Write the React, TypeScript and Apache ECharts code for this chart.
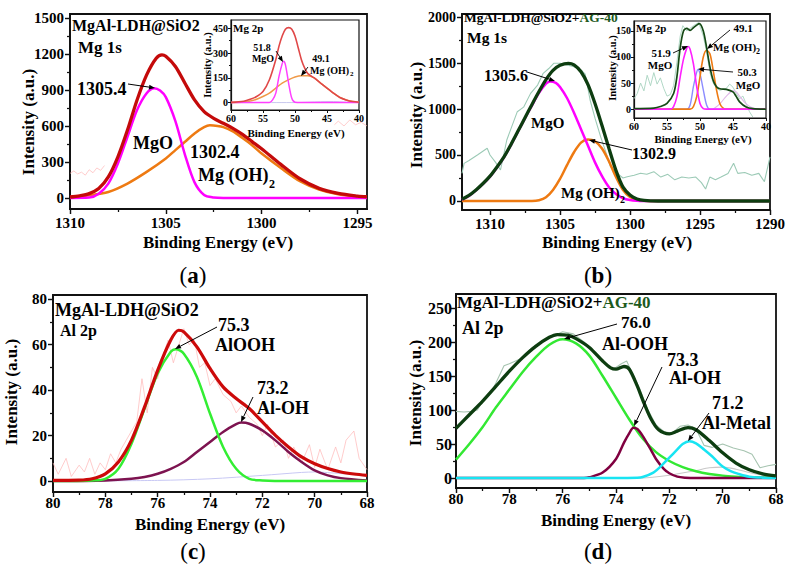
import React, { useEffect, useRef } from "react";
import * as echarts from "echarts";

const FONT = '"Liberation Serif", "Times New Roman", "DejaVu Serif", serif';

// ---------------- Panel (a): Mg 1s, MgAl-LDH@SiO2 ----------------
const aEnvelope = [[1310,8],[1309.5,18],[1309,36],[1308.5,78],[1308,175],[1307.5,343],[1307,566],[1306.5,817],[1306,1026],[1305.5,1165],[1305.2,1193],[1305,1180],[1304.5,1096],[1304,956],[1303.5,817],[1303,719],[1302.5,663],[1302,622],[1301.5,580],[1301,530],[1300.5,470],[1300,410],[1299,280],[1298,160],[1297,80],[1296,38],[1295,16],[1294.5,10]];
const aMgO = [[1310,0],[1309,3],[1308.5,36],[1308,120],[1307.5,287],[1307,510],[1306.5,733],[1306,873],[1305.6,915],[1305.3,895],[1305,840],[1304.5,640],[1304,360],[1303.5,130],[1303,25],[1302.5,4],[1302,0],[1294.5,0]];
const aMgOH2 = [[1310,8],[1309,22],[1308,50],[1307,120],[1306,217],[1305,329],[1304.5,399],[1304,468],[1303.5,538],[1303,590],[1302.7,605],[1302.3,600],[1302,590],[1301.5,555],[1301,500],[1300.5,440],[1300,370],[1299,250],[1298,140],[1297,70],[1296,30],[1295,12],[1294.5,8]];
const aRawLeft = [[1310,205],[1309.8,225],[1309.6,200],[1309.4,215],[1309.2,190],[1309,235],[1308.8,210],[1308.6,250],[1308.4,230],[1308.2,270]];
const aRawRight = [[1296.2,610],[1296,640],[1295.7,600],[1295.4,650],[1295.1,610],[1294.8,630],[1294.5,600]];

// inset (a): Mg 2p
const aInsetEnv = [[60,1],[58,8],[57,20],[56,37],[55,67],[54,138],[53,260],[52.5,342],[52,403],[51.5,444],[51,454],[50.5,444],[50,403],[49.5,332],[49,260],[48.5,210],[48,175],[47,149],[46,118],[45,88],[44,57],[43,31],[42,16],[41,6],[40,2]];
const aInsetMgO = [[60,0],[54,0],[53.5,16],[53,57],[52.5,159],[52,236],[51.8,250],[51.5,230],[51,118],[50.5,26],[50,2],[49,0],[40,0]];
const aInsetMgOH2 = [[60,0],[58,4],[57,10],[56,20],[55,37],[54,57],[53,88],[52,118],[51,138],[50,155],[49,163],[48,163],[47,149],[46,118],[45,88],[44,57],[43,31],[42,16],[41,6],[40,2]];
const aInsetBg = [[60,0],[50,0],[46,5],[44,6],[42,2],[40,0]];

// ---------------- Panel (b): Mg 1s, MgAl-LDH@SiO2+AG-40 ----------------
const bEnvelope = [[1312,20],[1311.5,60],[1311,120],[1310.5,190],[1310,270],[1309.5,370],[1309,480],[1308.5,615],[1308,760],[1307.5,905],[1307,1050],[1306.5,1190],[1306,1320],[1305.5,1420],[1305,1475],[1304.4,1497],[1304,1480],[1303.5,1405],[1303,1265],[1302.5,1060],[1302,820],[1301.5,570],[1301,330],[1300.5,150],[1300,65],[1299.5,22],[1299,6],[1298,0],[1290,0]];
const bMgO = [[1312,15],[1311.5,55],[1311,115],[1310.5,185],[1310,265],[1309.5,365],[1309,475],[1308.5,610],[1308,755],[1307.5,900],[1307,1040],[1306.5,1175],[1306,1275],[1305.7,1300],[1305.3,1285],[1305,1240],[1304.5,1120],[1304,960],[1303.5,780],[1303,600],[1302.5,420],[1302,270],[1301.5,150],[1301,75],[1300.5,30],[1300,10],[1299.5,2],[1299,0],[1290,0]];
const bMgOH2 = [[1312,0],[1307,0],[1306.5,8],[1306,40],[1305.5,120],[1305,240],[1304.5,390],[1304,530],[1303.5,635],[1303,668],[1302.5,650],[1302,570],[1301.5,430],[1301,260],[1300.5,120],[1300,45],[1299.5,15],[1299,3],[1298,0],[1290,0]];
const bRaw = [[1312,300],[1311.85,409],[1311.5,440],[1310.9,500],[1310.2,573],[1310,500],[1309.6,420],[1309.25,337],[1308.8,663],[1308.05,971],[1307.6,1020],[1307.1,1170],[1306.6,1260],[1306.2,1388],[1305.8,1440],[1305.45,1497],[1305,1497],[1304.5,1480],[1304,1460],[1303.5,1424],[1303.2,1380],[1302.85,1098],[1302.5,900],[1302.1,699],[1301.7,520],[1301.4,373],[1300.9,301],[1300.5,250],[1300.2,264],[1299.7,280],[1299.25,301],[1298.8,290],[1298.3,319],[1297.8,260],[1297.3,290],[1296.8,230],[1296.3,260],[1295.8,250],[1295.3,260],[1294.9,200],[1294.6,130],[1294.3,260],[1293.9,230],[1293.5,260],[1293,300],[1292.6,410],[1292.3,300],[1291.8,310],[1291.3,280],[1290.8,300],[1290.4,210],[1290,480]];

// inset (b): Mg 2p
const bInsetEnv = [[60,1],[57,2],[56,5],[55,11],[54,30],[53.5,62],[53,118],[52.5,150],[52,155],[51.5,151],[51,156],[50.5,161],[50.1,164],[49.5,150],[49,118],[48.5,81],[48,55],[47.5,43],[47,39],[46,38],[45,33],[44.5,24],[44,14],[43,4],[42,1],[40,0]];
const bInsetMgO1 = [[60,0],[54.5,0],[54,5],[53.5,24],[53,62],[52.5,96],[52,117],[51.8,120],[51.5,115],[51,87],[50.5,43],[50,11],[49.5,1],[49,0],[40,0]];
const bInsetMgO2 = [[60,0],[52,0],[51.5,8],[51,43],[50.5,71],[50.3,76],[50,68],[49.5,37],[49,8],[48.5,0],[40,0]];
const bInsetMgOH2 = [[60,0],[51.5,0],[51,5],[50.5,24],[50,62],[49.5,100],[49,113],[48.5,106],[48,74],[47.5,37],[47,11],[46.5,2],[46,0],[40,0]];
const bInsetExtra = [[48,0],[47,10],[46,25],[45,35],[44.5,33],[44,25],[43,10],[42,2],[41,0]];
const bInsetRaw = [[60,20],[59.5,30],[59,50],[58.5,35],[58,65],[57.5,45],[57,70],[56.5,48],[56,60],[55.5,40],[55,25],[54.5,28],[54,45],[53.5,90],[53,140],[52.6,160],[52,150],[51,160],[50.2,166],[49.5,140],[49,110],[48.5,70],[48,50],[47.5,40],[47,36],[46,40],[45.5,48],[45,42],[44.5,30],[44,20],[43.5,25],[43,10],[42.5,-5],[42,-15]];

// ---------------- Panel (c): Al 2p, MgAl-LDH@SiO2 ----------------
const cEnvelope = [[80,0.3],[79,0.4],[78.5,1],[78,3.2],[77.5,8.4],[77,18],[76.5,32.6],[76,48.7],[75.5,62],[75.2,66.3],[75,65.6],[74.5,59],[74,49.5],[73.5,41.4],[73,36.3],[72.5,31.9],[72,26],[71.5,20.1],[71,15],[70.5,10.6],[70,7.6],[69.5,5.5],[69,4],[68.5,3.1],[68,2.5]];
const cAlOOH = [[80,0],[78.5,0.3],[78,1],[77.5,5.4],[77,16.4],[76.5,31.9],[76,47.3],[75.5,56.8],[75.3,58],[75,56],[74.5,45.8],[74,29.7],[73.5,15],[73,5.4],[72.5,1],[72,0.3],[71,0],[68,0]];
const cAlOH = [[80,0],[78,0.3],[77,1],[76.5,1.8],[76,3.2],[75.5,5.4],[75,8.4],[74.5,12.8],[74,17.2],[73.5,21.6],[73,25],[72.8,25.7],[72.5,25.2],[72,22.3],[71.5,17.9],[71,12.8],[70.5,8.4],[70,4.7],[69.5,2.5],[69,1.3],[68,0.3]];
const cBackground = [[80,0],[76,0.3],[74,1],[72,2.5],[70.5,3.8],[70,4],[69,3.3],[68,2.5]];
const cRaw = [[80,8],[79.8,3],[79.5,10],[79.3,2],[79,7],[78.8,4],[78.6,10],[78.4,3],[78.2,8],[78,5],[77.8,12],[77.6,8],[77.4,14],[77.2,18],[77,22],[76.8,26],[76.6,45],[76.4,30],[76.2,50],[76,45],[75.8,55],[75.6,62],[75.4,52],[75,67],[74.8,60],[74.6,62],[74.4,50],[74.2,52],[74,42],[73.8,45],[73.5,38],[73.2,35],[73,30],[72.8,33],[72.5,28],[72.2,25],[72,20],[71.8,25],[71.5,15],[71.2,18],[71,10],[70.8,15],[70.5,8],[70.2,16],[70,6],[69.8,14],[69.5,5],[69.2,15],[69,8],[68.8,18],[68.5,22],[68.3,10],[68,5]];

// ---------------- Panel (d): Al 2p, MgAl-LDH@SiO2+AG-40 ----------------
const dEnvelope = [[80,73],[79.5,93],[79,113],[78.5,135],[78,157],[77.5,177],[77,194],[76.5,207],[76.2,211],[75.8,210],[75.5,205],[75,192],[74.5,172],[74.2,162],[74,160],[73.7,164],[73.5,160],[73.2,135],[73,115],[72.7,88],[72.4,71],[72,65],[71.7,69],[71.3,74],[71,71],[70.5,55],[70,37],[69.5,22],[69,12],[68.5,6],[68,3]];
const dAlOOH = [[80,27],[79.5,50],[79,75],[78.5,104],[78,130],[77.5,156],[77,178],[76.5,196],[76,204],[75.5,198],[75,180],[74.5,150],[74,118],[73.5,86],[73,58],[72.5,38],[72,25],[71.5,16],[71,10],[70.5,6],[70,3.5],[69.5,2],[69,1],[68,0.3]];
const dAlOH = [[80,0],[75.2,0],[75,1],[74.5,8],[74,28],[73.7,52],[73.5,66],[73.35,74],[73.2,72],[73,62],[72.7,42],[72.5,28],[72.2,13],[72,7],[71.7,2],[71.4,0.5],[71,0],[68,0]];
const dMetal = [[80,0],[74,0],[73.2,0.5],[73,1.5],[72.6,8],[72.3,18],[72,30],[71.7,42],[71.5,50],[71.25,54],[71,51],[70.7,42],[70.4,32],[70.2,24],[70,17],[69.7,10],[69.4,6],[69,2],[68.5,0.5],[68,0]];
const dBackground = [[80,0],[73,0],[72,4],[71,11],[70.5,15],[70,16],[69.5,13],[69,8],[68.5,4],[68,2]];
const dRaw = [[80,98],[79.7,97],[79.4,98],[79.2,100],[79,113],[78.7,125],[78.5,140],[78.2,165],[78,168],[77.6,175],[77.2,190],[76.8,200],[76.4,208],[76,215],[75.6,212],[75.2,200],[74.8,185],[74.4,168],[74.1,160],[73.8,168],[73.6,172],[73.4,155],[73.1,130],[72.8,100],[72.5,78],[72.2,68],[71.9,66],[71.6,76],[71.3,78],[71,72],[70.7,48],[70.4,45],[70,50],[69.6,44],[69.2,40],[68.9,35],[68.6,15],[68.3,18],[68,20]];

// ---------------- tick values ----------------
const aXLabels = [1310, 1305, 1300, 1295];
const aXMinor = [1307.5, 1302.5, 1297.5];
const aYLabels = [0, 300, 600, 900, 1200, 1500];
const aYMinor = [150, 450, 750, 1050, 1350];
const insetXLabels = [60, 55, 50, 45, 40];
const insetXMinor = [57.5, 52.5, 47.5, 42.5];
const aInsetYLabels = [0, 150, 300, 450];
const aInsetYMinor = [75, 225, 375];
const bXLabels = [1310, 1305, 1300, 1295, 1290];
const bXMinor = [1307.5, 1302.5, 1297.5, 1292.5];
const bYLabels = [0, 500, 1000, 1500, 2000];
const bYMinor = [250, 750, 1250, 1750];
const bInsetYLabels = [0, 50, 100, 150];
const bInsetYMinor = [25, 75, 125];
const alXLabels = [80, 78, 76, 74, 72, 70, 68];
const alXMinor = [79, 77, 75, 73, 71, 69];
const cYLabels = [0, 20, 40, 60, 80];
const cYMinor = [10, 30, 50, 70];
const dYLabels = [0, 50, 100, 150, 200, 250];
const dYMinor = [25, 75, 125, 175, 225];

// ---------------- helpers ----------------
type AxOpt = { fs: number; margin: number; lw: number; tick: number };

function axisPair(kind: "x" | "y", grid: number, min: number, max: number, inverse: boolean, labels: number[], minors: number[], o: AxOpt) {
  const common: any = {
    type: "value", gridIndex: grid, min, max, inverse,
    position: kind === "x" ? "bottom" : "left",
    splitLine: { show: false },
  };
  const major = {
    ...common,
    axisLine: { show: true, onZero: false, lineStyle: { color: "#111", width: o.lw } },
    axisTick: { show: true, customValues: labels, length: o.tick, lineStyle: { color: "#111", width: Math.max(1, o.lw * 0.8) } },
    axisLabel: {
      show: true, customValues: labels, margin: o.margin, color: "#000",
      fontFamily: FONT, fontWeight: "bold", fontSize: o.fs,
      formatter: (v: number) => String(v),
    },
  };
  const minor = {
    ...common,
    axisLine: { show: false, onZero: false },
    axisTick: { show: true, customValues: minors, length: Math.max(2, o.tick * 0.6), lineStyle: { color: "#111", width: Math.max(1, o.lw * 0.7) } },
    axisLabel: { show: false },
  };
  return [major, minor];
}

function ln(g: number, data: number[][], color: string, width: number, opts: any = {}) {
  return {
    type: "line", xAxisIndex: 2 * g, yAxisIndex: 2 * g, data,
    symbol: "none", showSymbol: false, silent: true,
    smooth: opts.smooth === undefined ? 0.3 : opts.smooth,
    lineStyle: { color, width, opacity: opts.opacity === undefined ? 1 : opts.opacity },
    z: opts.z === undefined ? 2 : opts.z,
    animation: false,
  };
}

function txt(x: number, y: number, text: string, size: number, o: any = {}) {
  return {
    type: "text", x, y, z: 100, rotation: o.rotation || 0, silent: true,
    style: {
      text, fill: o.fill || "#000",
      font: `${o.weight || "bold"} ${size}px ${FONT}`,
      align: o.align || "left", verticalAlign: "middle",
      rich: o.rich,
    },
  };
}

function arrow(x1: number, y1: number, x2: number, y2: number, lw = 1) {
  const ang = Math.atan2(y2 - y1, x2 - x1);
  const L = 6, W = 2.4;
  const bx = x2 - L * Math.cos(ang), by = y2 - L * Math.sin(ang);
  const px = -Math.sin(ang) * W, py = Math.cos(ang) * W;
  return [
    { type: "line", z: 100, silent: true, shape: { x1, y1, x2: bx, y2: by }, style: { stroke: "#000", lineWidth: lw } },
    { type: "polygon", z: 100, silent: true, shape: { points: [[x2, y2], [bx + px, by + py], [bx - px, by - py]] }, style: { fill: "#000" } },
  ];
}

function panelLabel(x: number, y: number, letter: string) {
  return {
    type: "text", x, y, z: 100, silent: true,
    style: {
      text: `{p|(}{b|${letter}}{p|)}`, align: "center", verticalAlign: "middle",
      rich: {
        p: { fontFamily: FONT, fontSize: 23, fontWeight: "normal", fill: "#000" },
        b: { fontFamily: FONT, fontSize: 23, fontWeight: "bold", fill: "#000" },
      },
    },
  };
}

function sampleTitle(x: number, y: number, size: number) {
  return {
    type: "text", x, y, z: 100, silent: true,
    style: {
      text: "{k|MgAl-LDH@SiO2+}{g|AG-40}", align: "left", verticalAlign: "middle",
      rich: {
        k: { fontFamily: FONT, fontSize: size, fontWeight: "bold", fill: "#000" },
        g: { fontFamily: FONT, fontSize: size, fontWeight: "bold", fill: "#1d5a1d" },
      },
    },
  };
}

function buildOption() {
  const main: AxOpt = { fs: 15, margin: 6, lw: 1.8, tick: 5 };
  const inset: AxOpt = { fs: 10, margin: 3, lw: 1.2, tick: 3 };

  const grids = [
    { left: 70, top: 14, width: 297, height: 195 },   // a
    { left: 231, top: 20, width: 128, height: 90 },   // a inset
    { left: 462, top: 14, width: 310, height: 196 },  // b
    { left: 634, top: 21, width: 132, height: 97 },   // b inset
    { left: 53, top: 295, width: 314, height: 197 },  // c
    { left: 456, top: 294, width: 320, height: 194 }, // d
  ].map((g, i) => ({
    ...g, show: true, borderColor: "#111", borderWidth: i === 1 || i === 3 ? 1.2 : 1.8,
    backgroundColor: i === 1 || i === 3 ? "#fff" : "transparent", containLabel: false,
  }));

  const xAxis = [
    ...axisPair("x", 0, 1294.5, 1310, true, aXLabels, aXMinor, main),
    ...axisPair("x", 1, 40, 60, true, insetXLabels, insetXMinor, inset),
    ...axisPair("x", 2, 1290, 1312, true, bXLabels, bXMinor, main),
    ...axisPair("x", 3, 40, 60, true, insetXLabels, insetXMinor, inset),
    ...axisPair("x", 4, 68, 80, true, alXLabels, alXMinor, { ...main, margin: 3 }),
    ...axisPair("x", 5, 68, 80, true, alXLabels, alXMinor, { ...main, margin: 3 }),
  ];
  const yAxis = [
    ...axisPair("y", 0, -92, 1533, false, aYLabels, aYMinor, main),
    ...axisPair("y", 1, -45, 500, false, aInsetYLabels, aInsetYMinor, inset),
    ...axisPair("y", 2, -98, 2033, false, bYLabels, bYMinor, { ...main, fs: 14 }),
    ...axisPair("y", 3, -17, 169, false, bInsetYLabels, bInsetYMinor, inset),
    ...axisPair("y", 4, -4.8, 81.8, false, cYLabels, cYMinor, main),
    ...axisPair("y", 5, -14.7, 270.6, false, dYLabels, dYMinor, { ...main, fs: 16, margin: 4 }),
  ];

  const series = [
    // (a)
    ln(0, aRawLeft, "#ffb8b8", 1, { smooth: false, opacity: 0.7 }),
    ln(0, aRawRight, "#ffb8b8", 1, { smooth: false, opacity: 0.7 }),
    ln(0, aMgOH2, "#ee7a12", 2.5),
    ln(0, aMgO, "#ff00ff", 2.5),
    ln(0, aEnvelope, "#c40a0a", 3.3),
    // (a) inset
    ln(1, aInsetBg, "#c8c8ee", 1, { z: 3 }),
    ln(1, aInsetMgOH2, "#f09a48", 1.5, { z: 3 }),
    ln(1, aInsetMgO, "#ff40ff", 1.5, { z: 3 }),
    ln(1, aInsetEnv, "#e04848", 1.6, { z: 3 }),
    // (b)
    ln(2, bRaw, "#9ccab6", 1.1, { smooth: false }),
    ln(2, bMgOH2, "#ee7a12", 2.5),
    ln(2, bMgO, "#ff00ff", 2.5),
    ln(2, bEnvelope, "#0d3d10", 3.3),
    // (b) inset
    ln(3, bInsetRaw, "#a8d4c0", 0.9, { smooth: false, z: 3 }),
    ln(3, bInsetExtra, "#e0b8e8", 1.1, { z: 3 }),
    ln(3, bInsetMgO2, "#8c8cff", 1.4, { z: 3 }),
    ln(3, bInsetMgOH2, "#ee7a12", 1.6, { z: 3 }),
    ln(3, bInsetMgO1, "#ff20ff", 1.6, { z: 3 }),
    ln(3, bInsetEnv, "#164a16", 1.7, { z: 3 }),
    // (c)
    ln(4, cRaw, "#ffb8b8", 0.9, { smooth: false, opacity: 0.8 }),
    ln(4, cBackground, "#c8c8f4", 1),
    ln(4, cAlOH, "#7d1350", 2.5),
    ln(4, cAlOOH, "#33ee33", 2.5),
    ln(4, cEnvelope, "#cc0a0a", 3.2),
    // (d)
    ln(5, dRaw, "#a6c4b0", 1.1, { smooth: false }),
    ln(5, dBackground, "#c8c8c8", 1.1),
    ln(5, dAlOOH, "#33e833", 2.5),
    ln(5, dAlOH, "#800040", 2.5),
    ln(5, dMetal, "#18e4f2", 2.5),
    ln(5, dEnvelope, "#0d3d10", 3.3),
  ];

  const g: any[] = [
    // ----- (a) -----
    txt(72, 25, "MgAl-LDH@SiO2", 16),
    txt(78, 47, "Mg 1s", 17),
    txt(77, 89, "1305.4", 18),
    ...arrow(128, 84, 155, 88),
    txt(133, 143, "MgO", 18),
    txt(190, 152, "1302.4", 18),
    txt(198, 175, "Mg (OH)", 18),
    txt(269, 184, "2", 12),
    txt(218, 242, "Binding Energy (eV)", 17, { align: "center" }),
    txt(28, 122, "Intensity (a.u.)", 17, { align: "center", rotation: Math.PI / 2 }),
    // (a) inset
    txt(233, 28, "Mg 2p", 11),
    txt(262, 47, "51.8", 10, { align: "center" }),
    txt(263, 58, "MgO", 10, { align: "center" }),
    ...arrow(276, 51, 283, 62, 0.9),
    txt(321, 58, "49.1", 10, { align: "center" }),
    txt(310, 70, "Mg (OH)", 10),
    txt(350, 74, "2", 7),
    ...arrow(308, 67, 301, 76, 0.9),
    txt(296, 133, "Binding Energy (eV)", 11, { align: "center" }),
    txt(207, 65, "Intensity (a.u.)", 10.5, { align: "center", rotation: Math.PI / 2 }),

    // ----- (b) -----
    sampleTitle(464, 17, 13.5),
    txt(467, 37, "Mg 1s", 15.5),
    txt(484, 75, "1305.6", 16),
    ...arrow(527, 72, 555, 81),
    txt(531, 123, "MgO", 15),
    txt(632, 153, "1302.9", 16),
    ...arrow(632, 150, 589, 140),
    txt(561, 193, "Mg (OH)", 15),
    txt(620, 199, "2", 10),
    txt(617, 242, "Binding Energy (eV)", 17, { align: "center" }),
    txt(416, 115, "Intensity (a.u.)", 17, { align: "center", rotation: Math.PI / 2 }),
    // (b) inset
    txt(636, 28, "Mg 2p", 11),
    txt(661, 53, "51.9", 11, { align: "center" }),
    txt(660, 65, "MgO", 11, { align: "center" }),
    ...arrow(673, 53, 688, 46, 0.9),
    txt(743, 28, "49.1", 11, { align: "center" }),
    ...arrow(730, 30, 707, 49, 0.9),
    txt(713, 47, "Mg (OH)", 11),
    txt(756, 51, "2", 8),
    txt(747, 72, "50.3", 11, { align: "center" }),
    ...arrow(733, 72, 698, 69, 0.9),
    txt(748, 85, "MgO", 11, { align: "center" }),
    txt(703, 139, "Binding Energy (eV)", 11, { align: "center" }),
    txt(612, 68, "Intensity (a.u.)", 10.5, { align: "center", rotation: Math.PI / 2 }),

    // ----- (c) -----
    txt(55, 310, "MgAl-LDH@SiO2", 18),
    txt(60, 330, "Al 2p", 16),
    txt(218, 325, "75.3", 18),
    txt(215, 345, "AlOOH", 18),
    ...arrow(217, 327, 175, 349),
    txt(257, 388, "73.2", 18),
    txt(257, 408, "Al-OH", 18),
    ...arrow(253, 397, 241, 422),
    txt(210, 524, "Binding Energy (eV)", 17, { align: "center" }),
    txt(11, 392, "Intensity (a.u.)", 17, { align: "center", rotation: Math.PI / 2 }),

    // ----- (d) -----
    sampleTitle(457, 302, 17),
    txt(462, 328, "Al 2p", 18),
    txt(621, 322, "76.0", 17),
    ...arrow(617, 324, 564, 339),
    txt(602, 344, "Al-OOH", 18),
    txt(667, 360, "73.3", 18),
    txt(669, 378, "Al-OH", 18),
    ...arrow(662, 367, 634, 426),
    txt(712, 403, "71.2", 18),
    txt(702, 423, "Al-Metal", 18),
    ...arrow(709, 413, 688, 441),
    txt(616, 520, "Binding Energy (eV)", 17, { align: "center" }),
    txt(415, 393, "Intensity (a.u.)", 17, { align: "center", rotation: Math.PI / 2 }),

    // panel labels
    panelLabel(193, 275, "a"),
    panelLabel(598, 275, "b"),
    panelLabel(193, 551, "c"),
    panelLabel(598, 551, "d"),
  ];

  return {
    animation: false,
    backgroundColor: "#ffffff",
    grid: grids,
    xAxis,
    yAxis,
    series,
    graphic: { elements: g },
  };
}

export default function App() {
  const ref = useRef<HTMLDivElement>(null);
  useEffect(() => {
    document.body.style.margin = "0";
    const chart = echarts.init(ref.current as HTMLDivElement, null, { renderer: "svg" });
    chart.setOption(buildOption() as any);
    return () => chart.dispose();
  }, []);
  return <div ref={ref} style={{ width: 788, height: 569, background: "#fff" }} />;
}
